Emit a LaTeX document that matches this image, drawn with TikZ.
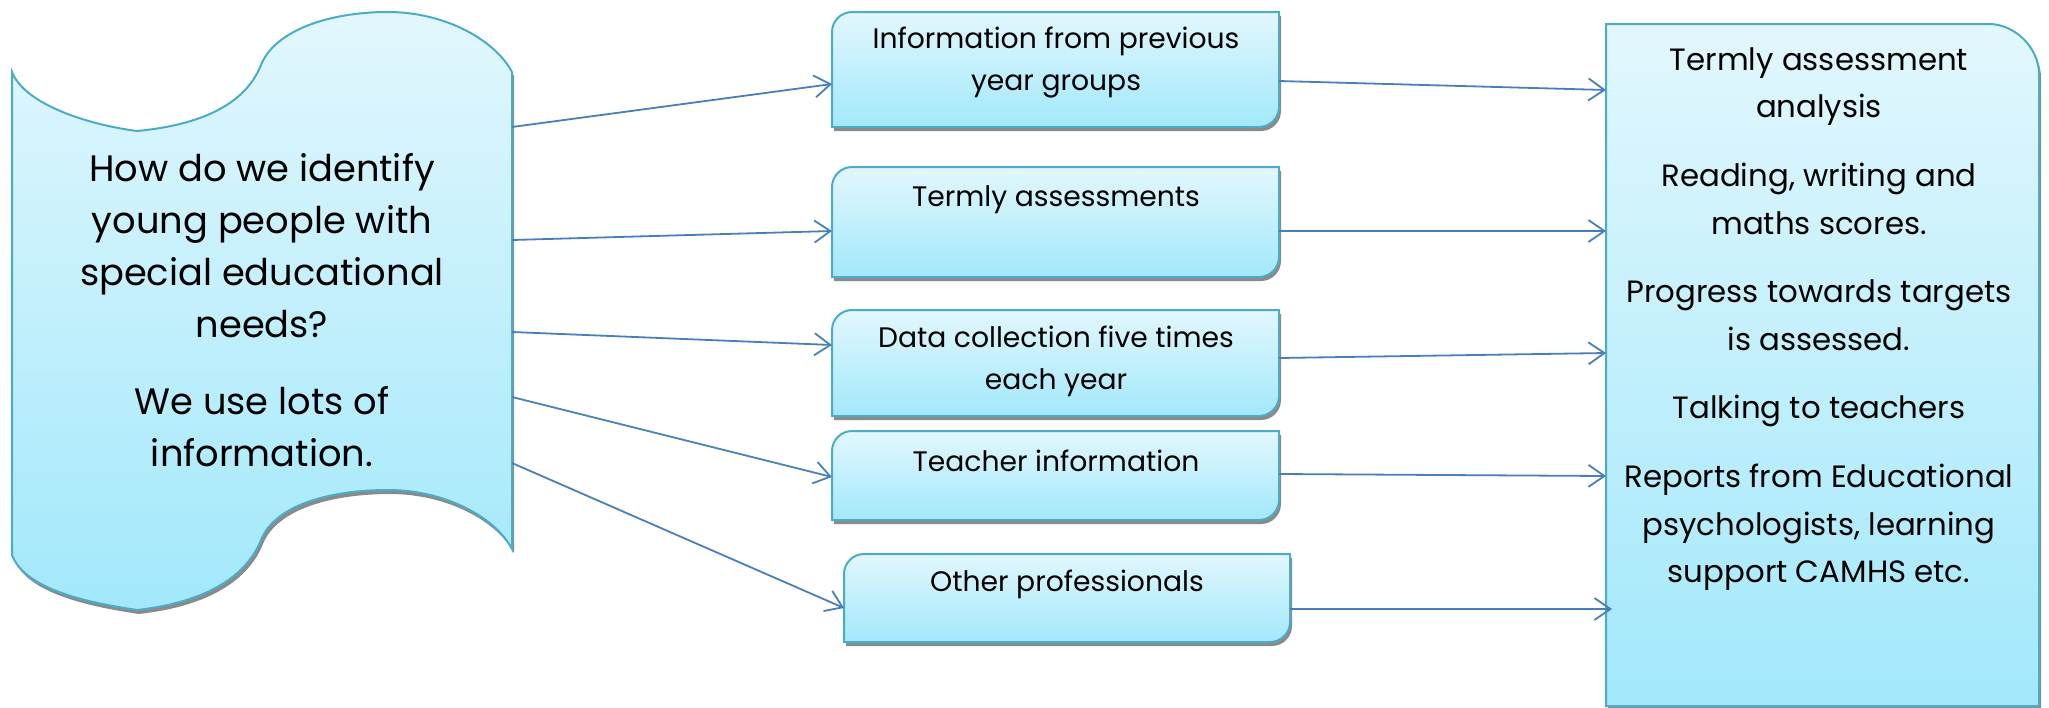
\documentclass[tikz,border=0pt]{standalone}
\usepackage{fontspec}
\setmainfont{Poppins}
\usetikzlibrary{arrows.meta,fit,calc}
\definecolor{topc}{HTML}{E2F7FD}
\definecolor{botc}{HTML}{A2E8FB}
\definecolor{edgec}{HTML}{4BACC6}
\definecolor{arrc}{HTML}{4A7EBB}
\definecolor{shadc}{HTML}{8A8A8A}
\newcommand\midbox[5]{%
  \fill[shadc,shift={(2,4)}] (#2,#5) -- (#2,#3+20) .. controls (#2,#3+9) and (#2+9,#3) .. (#2+20,#3) -- (#4,#3) -- (#4,#5-20) .. controls (#4,#5-9) and (#4-9,#5) .. (#4-20,#5) -- cycle;
  \path[boxfill] (#2,#5) -- (#2,#3+20) .. controls (#2,#3+9) and (#2+9,#3) .. (#2+20,#3) -- (#4,#3) -- (#4,#5-20) .. controls (#4,#5-9) and (#4-9,#5) .. (#4-20,#5) -- cycle;
  \node[holder,fit={(#2,#3) (#4,#5)}] (#1) {};
}
\begin{document}
\begin{tikzpicture}[x=0.5pt,y=-0.5pt,
  boxfill/.style={top color=topc,bottom color=botc,draw=edgec,line width=1pt},
  holder/.style={inner sep=0pt,outer sep=0pt},
  conn/.style={draw=arrc,line width=0.9pt,-{Straight Barb[length=8pt,width=11pt]}},
  midtext/.style={font=\fontsize{14.1}{21}\selectfont,align=center,text=black,inner sep=0pt},
  lefttext/.style={font=\fontsize{18.4}{26}\selectfont,align=center,text=black,inner sep=0pt},
  righttext/.style={font=\fontsize{15.4}{23.8}\selectfont,align=center,text=black,inner sep=0pt}]
\useasboundingbox (0,0) rectangle (2049,707);
% left punched-tape shape
\fill[shadc,shift={(2,4)}] (12,72) .. controls (25,105) and (90,125) .. (137,131) .. controls (200,125) and (245,105) .. (261,65) .. controls (275,30) and (330,12) .. (388,12) .. controls (445,12) and (495,40) .. (512,72) -- (512,549) .. controls (495,517) and (445,490) .. (388,490) .. controls (330,490) and (275,505) .. (261,540) .. controls (245,580) and (200,603) .. (137,610) .. controls (90,603) and (25,590) .. (12,555) -- cycle;
\path[boxfill] (12,72) .. controls (25,105) and (90,125) .. (137,131) .. controls (200,125) and (245,105) .. (261,65) .. controls (275,30) and (330,12) .. (388,12) .. controls (445,12) and (495,40) .. (512,72) -- (512,549) .. controls (495,517) and (445,490) .. (388,490) .. controls (330,490) and (275,505) .. (261,540) .. controls (245,580) and (200,603) .. (137,610) .. controls (90,603) and (25,590) .. (12,555) -- cycle;
\node[holder,fit={(12,12) (512,610)}] (L) {};
\node[lefttext] (Lt) at (262,310) {How do we identify\\young people with\\special educational\\needs?\\[12.5pt]We use lots of\\information.};
% middle boxes
\midbox{m1}{832}{12}{1279}{127}
\midbox{m2}{832}{167}{1279}{277}
\midbox{m3}{832}{310}{1279}{416}
\midbox{m4}{832}{431}{1279}{520}
\midbox{m5}{844}{554}{1290}{642}
\node[midtext] (t1) at (1056,63) {Information from previous\\year groups};
\node[midtext] (t2) at (1056,200) {Termly assessments};
\node[midtext] (t3) at (1056,361) {Data collection five times\\each year};
\node[midtext] (t4) at (1056,461) {Teacher information};
\node[midtext] (t5) at (1067,584) {Other professionals};
% right box
\fill[shadc,shift={(2,4)}] (1606,706) -- (1606,24) -- (1989,24) .. controls (2015,24) and (2039,48) .. (2039,74) -- (2039,706) -- cycle;
\path[boxfill] (1606,706) -- (1606,24) -- (1989,24) .. controls (2015,24) and (2039,48) .. (2039,74) -- (2039,706) -- cycle;
\node[holder,fit={(1606,24) (2039,706)}] (R) {};
\node[righttext] (Rt) at (1819,319) {Termly assessment\\analysis\\[10.5pt]Reading, writing and\\maths scores.\\[10.5pt]Progress towards targets\\is assessed.\\[10.5pt]Talking to teachers\\[10.5pt]Reports from Educational\\psychologists, learning\\support CAMHS etc.};
% connectors
\draw[conn] (L.east |- 0,127) -- (m1.west |- 0,84);
\draw[conn] (L.east |- 0,240) -- (m2.west |- 0,231);
\draw[conn] (L.east |- 0,332) -- (m3.west |- 0,345);
\draw[conn] (L.east |- 0,397) -- (m4.west |- 0,477);
\draw[conn] (L.east |- 0,463) -- (m5.west |- 0,608);
\draw[conn] (m1.east |- 0,81) -- (R.west |- 0,90);
\draw[conn] (m2.east |- 0,231) -- (R.west |- 0,231);
\draw[conn] (m3.east |- 0,358) -- (R.west |- 0,353);
\draw[conn] (m4.east |- 0,474) -- (R.west |- 0,476);
\draw[conn] (m5.east |- 0,609) -- ($(R.west |- 0,609)+(6,0)$);
\end{tikzpicture}
\end{document}
